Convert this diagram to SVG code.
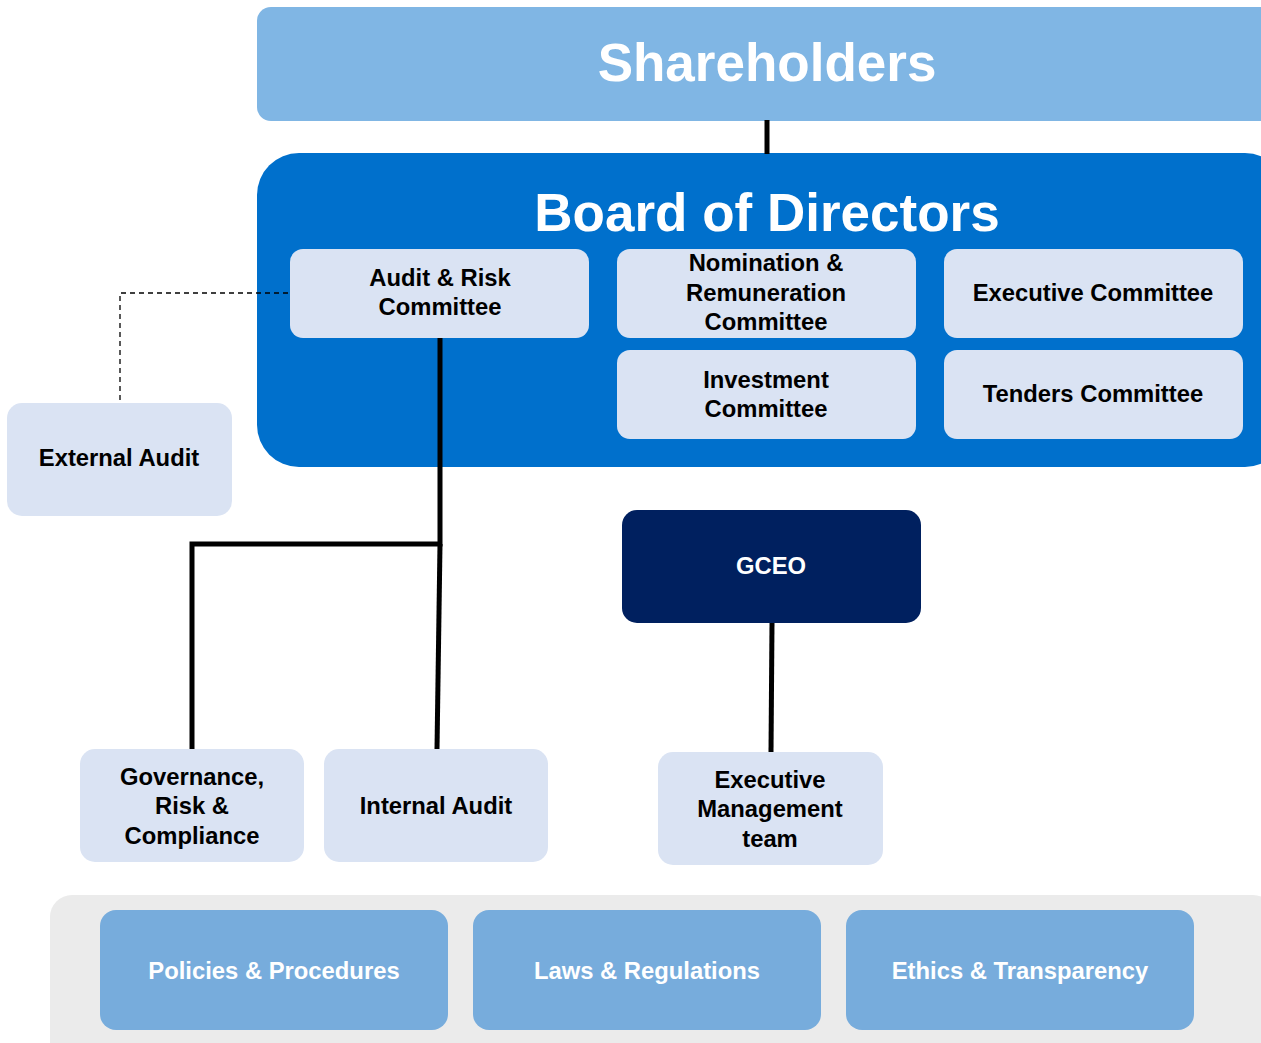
<svg xmlns="http://www.w3.org/2000/svg" width="1261" height="1043" viewBox="0 0 1261 1043">
<style>
text{font-family:"Liberation Sans",Arial,sans-serif;font-weight:bold;text-anchor:middle}
.lt{fill:#DAE3F3}
.n{font-size:23.8px;fill:#000}
.w{font-size:23.8px;fill:#fff}
.big{font-size:53px;fill:#fff}
.pill{fill:#77ACDC}
.conn{stroke:#000;stroke-width:5;fill:none}
</style>
<rect width="1261" height="1043" fill="#fff"/>
<g id="shareholders">
<rect x="257" y="7" width="1040" height="114" rx="14" fill="#80B6E4"/>
<text class="big" x="767" y="81">Shareholders</text>
</g>
<g id="board">
<rect x="257" y="153" width="1030" height="314" rx="42" fill="#0070CC"/>
<text class="big" x="767" y="231">Board of Directors</text>
</g>
<g id="connectors">
<line class="conn" x1="767" y1="120" x2="767" y2="154"/>
<path d="M288 293 H120 V403" stroke="#000" stroke-width="1.3" stroke-dasharray="5,4" fill="none"/>
</g>
<g id="audit-risk">
<rect class="lt" x="290" y="249" width="299" height="89" rx="13"/>
<text class="n" x="440" y="286">Audit &amp; Risk</text>
<text class="n" x="440" y="315">Committee</text>
</g>
<g id="nomination">
<rect class="lt" x="617" y="249" width="299" height="89" rx="13"/>
<text class="n" x="766" y="271">Nomination &amp;</text>
<text class="n" x="766" y="301">Remuneration</text>
<text class="n" x="766" y="330">Committee</text>
</g>
<g id="executive-committee">
<rect class="lt" x="944" y="249" width="299" height="89" rx="13"/>
<text class="n" x="1093" y="301">Executive Committee</text>
</g>
<g id="investment">
<rect class="lt" x="617" y="350" width="299" height="89" rx="13"/>
<text class="n" x="766" y="388">Investment</text>
<text class="n" x="766" y="417">Committee</text>
</g>
<g id="tenders">
<rect class="lt" x="944" y="350" width="299" height="89" rx="13"/>
<text class="n" x="1093" y="402">Tenders Committee</text>
</g>
<g id="external-audit">
<rect class="lt" x="7" y="403" width="225" height="113" rx="15"/>
<text class="n" x="119" y="466">External Audit</text>
</g>
<g id="connectors2">
<path class="conn" d="M440 338 V544 H192 V749"/>
<path class="conn" d="M440 544 L437 749"/>
<path class="conn" d="M772 623 L771 752"/>
</g>
<g id="gceo">
<rect x="622" y="510" width="299" height="113" rx="15" fill="#00205F"/>
<text class="w" x="771" y="574">GCEO</text>
</g>
<g id="governance">
<rect class="lt" x="80" y="749" width="224" height="113" rx="15"/>
<text class="n" x="192" y="785">Governance,</text>
<text class="n" x="192" y="814">Risk &amp;</text>
<text class="n" x="192" y="844">Compliance</text>
</g>
<g id="internal-audit">
<rect class="lt" x="324" y="749" width="224" height="113" rx="15"/>
<text class="n" x="436" y="814">Internal Audit</text>
</g>
<g id="exec-mgmt">
<rect class="lt" x="658" y="752" width="225" height="113" rx="15"/>
<text class="n" x="770" y="788">Executive</text>
<text class="n" x="770" y="817">Management</text>
<text class="n" x="770" y="847">team</text>
</g>
<g id="foundation">
<rect x="50" y="895" width="1225" height="170" rx="22" fill="#EBEBEB"/>
</g>
<g id="policies">
<rect class="pill" x="100" y="910" width="348" height="120" rx="16"/>
<text class="w" x="274" y="979">Policies &amp; Procedures</text>
</g>
<g id="laws">
<rect class="pill" x="473" y="910" width="348" height="120" rx="16"/>
<text class="w" x="647" y="979">Laws &amp; Regulations</text>
</g>
<g id="ethics">
<rect class="pill" x="846" y="910" width="348" height="120" rx="16"/>
<text class="w" x="1020" y="979">Ethics &amp; Transparency</text>
</g>
</svg>
